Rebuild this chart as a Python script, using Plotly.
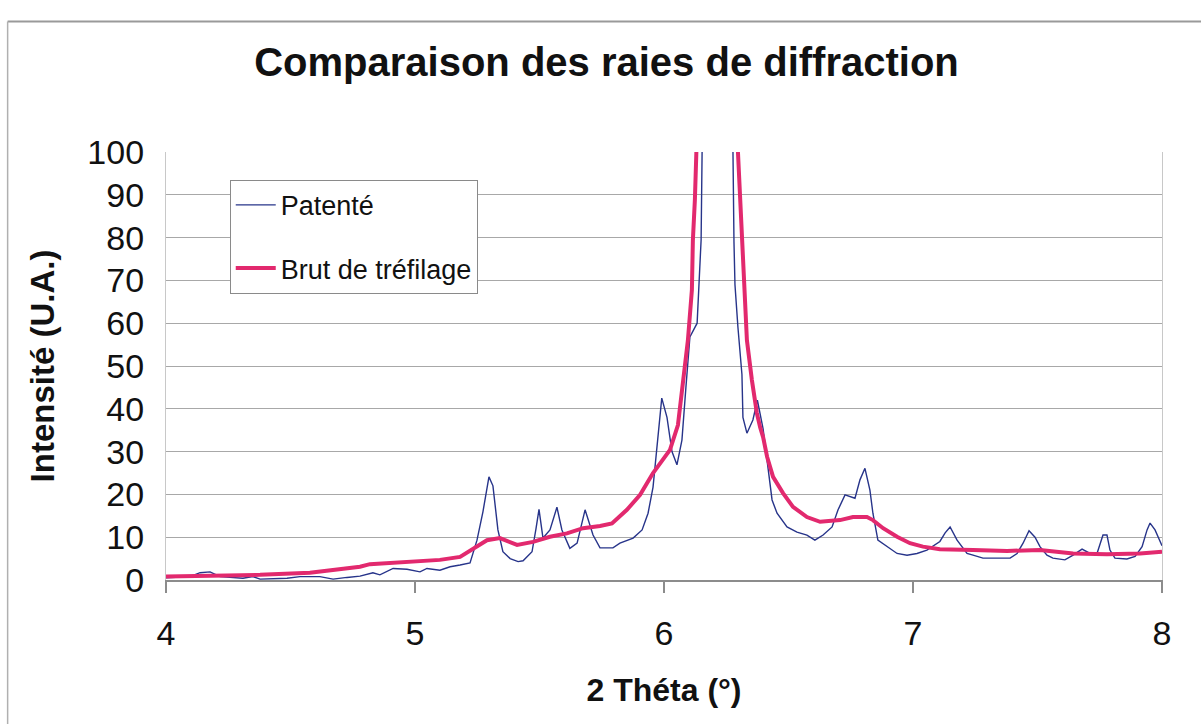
import plotly.graph_objects as go

# 2 theta (deg) and intensity (arbitrary units) for the annealed wire ("Patenté")
patente_x = [4.000, 4.096, 4.137, 4.177, 4.217, 4.309, 4.349, 4.378, 4.486, 4.538,
             4.618, 4.671, 4.727, 4.779, 4.831, 4.859, 4.912, 4.968, 5.020, 5.048,
             5.100, 5.141, 5.181, 5.221, 5.249, 5.273, 5.297, 5.313, 5.333, 5.353,
             5.382, 5.414, 5.434, 5.470, 5.486, 5.498, 5.514, 5.542, 5.570, 5.590,
             5.622, 5.651, 5.683, 5.715, 5.743, 5.795, 5.823, 5.876, 5.912, 5.936,
             5.956, 5.972, 5.991, 6.012, 6.032, 6.052, 6.072, 6.088, 6.104, 6.133,
             6.141, 6.149, 6.153, 6.170, 6.210, 6.250, 6.277, 6.281, 6.285, 6.297,
             6.313, 6.317, 6.333, 6.357, 6.375, 6.398, 6.418, 6.434, 6.454, 6.494,
             6.534, 6.574, 6.606, 6.639, 6.675, 6.699, 6.727, 6.747, 6.767, 6.787,
             6.807, 6.827, 6.839, 6.859, 6.896, 6.936, 6.976, 7.016, 7.056, 7.108,
             7.129, 7.149, 7.177, 7.217, 7.241, 7.281, 7.390, 7.418, 7.442, 7.466,
             7.490, 7.510, 7.538, 7.562, 7.610, 7.643, 7.679, 7.711, 7.739, 7.751,
             7.763, 7.779, 7.791, 7.811, 7.859, 7.892, 7.920, 7.940, 7.952, 7.972,
             7.992, 8.000]
patente_y = [0.5, 0.8, 1.7, 1.9, 0.8, 0.4, 0.8, 0.2, 0.4, 0.8,
             0.8, 0.2, 0.6, 0.9, 1.7, 1.2, 2.7, 2.5, 1.9, 2.7,
             2.3, 3.1, 3.5, 4.0, 9.3, 16.0, 24.1, 22.0, 11.7, 6.6,
             5.0, 4.3, 4.5, 6.6, 12.0, 16.5, 9.8, 11.7, 17.0, 11.7,
             7.4, 8.6, 16.4, 10.5, 7.5, 7.5, 8.6, 9.8, 11.7, 15.6,
             21.7, 32.0, 42.5, 38.0, 30.0, 26.9, 32.7, 45.0, 56.8, 60.0,
             69.4, 79.4, 100.0, 150.0, 320.0, 180.0, 100.0, 79.0, 69.0, 59.0,
             48.0, 38.0, 34.3, 37.4, 42.0, 35.3, 26.4, 18.7, 15.6, 12.4,
             11.2, 10.5, 9.3, 10.5, 12.4, 16.4, 19.9, 19.5, 19.1, 23.4,
             26.1, 21.0, 15.6, 9.3, 7.8, 6.2, 5.8, 6.2, 7.0, 9.0,
             11.0, 12.4, 9.3, 6.2, 5.8, 5.1, 5.1, 6.2, 8.6, 11.5,
             10.0, 7.8, 5.8, 5.1, 4.7, 5.8, 7.2, 6.2, 6.2, 8.6,
             10.5, 10.5, 7.0, 5.1, 4.9, 5.5, 7.8, 11.7, 13.3, 11.7,
             9.3, 8.0]

# 2 theta (deg) and intensity for the as-drawn wire ("Brut de tréfilage")
brut_x = [4.000, 4.177, 4.378, 4.578, 4.779, 4.819, 4.980, 5.100, 5.181, 5.233,
          5.289, 5.341, 5.410, 5.474, 5.542, 5.610, 5.675, 5.743, 5.791, 5.851,
          5.904, 5.956, 6.024, 6.056, 6.076, 6.096, 6.112, 6.116, 6.124, 6.133,
          6.210, 6.297, 6.313, 6.321, 6.333, 6.353, 6.373, 6.386, 6.398, 6.414,
          6.438, 6.478, 6.518, 6.574, 6.627, 6.707, 6.759, 6.815, 6.839, 6.880,
          6.936, 6.988, 7.040, 7.108, 7.177, 7.241, 7.378, 7.510, 7.643, 7.779,
          7.912, 8.000]
brut_y = [0.8, 1.0, 1.2, 1.7, 3.1, 3.7, 4.2, 4.7, 5.4, 7.4,
          9.3, 9.8, 8.2, 8.9, 10.1, 10.9, 12.1, 12.6, 13.2, 16.4,
          19.9, 25.0, 30.4, 36.2, 46.7, 56.0, 67.8, 79.4, 88.8, 100.0,
          250.0, 100.0, 79.4, 67.8, 56.0, 46.7, 39.0, 35.7, 33.4, 28.8,
          24.1, 20.3, 17.1, 14.7, 13.6, 14.0, 14.7, 14.7, 14.0, 12.1,
          10.1, 8.6, 7.8, 7.2, 7.2, 7.0, 6.8, 7.0, 6.2, 6.0,
          6.2, 6.6]

x_ticks = [4, 5, 6, 7, 8]
y_ticks = [0, 10, 20, 30, 40, 50, 60, 70, 80, 90, 100]

FONT = "Liberation Sans, Arial, sans-serif"

fig = go.Figure()
fig.add_trace(go.Scatter(
    x=patente_x, y=patente_y, mode="lines", name="Patenté",
    legendgroup="a", line=dict(color="#27348a", width=1.4),
))
fig.add_trace(go.Scatter(
    x=brut_x, y=brut_y, mode="lines", name="Brut de tréfilage",
    legendgroup="b", line=dict(color="#e2296e", width=4),
))

fig.update_layout(
    width=1201, height=724,
    margin=dict(l=166, r=39, t=152, b=144),
    paper_bgcolor="white", plot_bgcolor="white",
    font=dict(family=FONT, color="#111111"),
    title=dict(
        text="<b>Comparaison des raies de diffraction</b>",
        font=dict(size=40, family=FONT, color="#111111"),
        x=0.505, xanchor="center", y=0.915, yanchor="middle",
    ),
    showlegend=True,
    legend=dict(
        x=0.064, y=0.935, xanchor="left", yanchor="top",
        bgcolor="white", bordercolor="#8a8a8a", borderwidth=1,
        font=dict(size=27, family=FONT, color="#111111"),
        tracegroupgap=25, traceorder="grouped", itemwidth=40,
    ),
    xaxis=dict(
        range=[4, 8], tickvals=x_ticks, ticktext=[str(v) for v in x_ticks],
        showgrid=False, zeroline=False,
        showline=True, linecolor="#8c8c8c", linewidth=2,
        ticks="outside", ticklen=11, tickcolor="#8c8c8c", tickwidth=2,
        ticklabelstandoff=11,
        tickfont=dict(size=34, family=FONT, color="#111111"),
        title=dict(text="<b>2 Théta (°)</b>", font=dict(size=32, family=FONT, color="#111111"),
                   standoff=28),
    ),
    yaxis=dict(
        range=[0, 100], tickvals=y_ticks,
        showgrid=True, gridcolor="#a8a8a8", gridwidth=1.3, zeroline=False,
        showline=True, linecolor="#c8c8c8", linewidth=1.3, mirror=True,
        ticks="", ticklabelstandoff=14,
        tickfont=dict(size=34, family=FONT, color="#111111"),
        title=dict(text="<b>Intensité (U.A.)</b>", font=dict(size=33, family=FONT, color="#111111"),
                   standoff=22),
    ),
)

# outer chart frame (top and left edges)
fig.add_shape(type="line", xref="paper", yref="paper",
              x0=-0.159, x1=1.1, y0=1.305, y1=1.305,
              line=dict(color="#9a9a9a", width=2))
fig.add_shape(type="line", xref="paper", yref="paper",
              x0=-0.159, x1=-0.159, y0=1.305, y1=-0.4,
              line=dict(color="#b0b0b0", width=1.5))

fig.write_html("out.html")
